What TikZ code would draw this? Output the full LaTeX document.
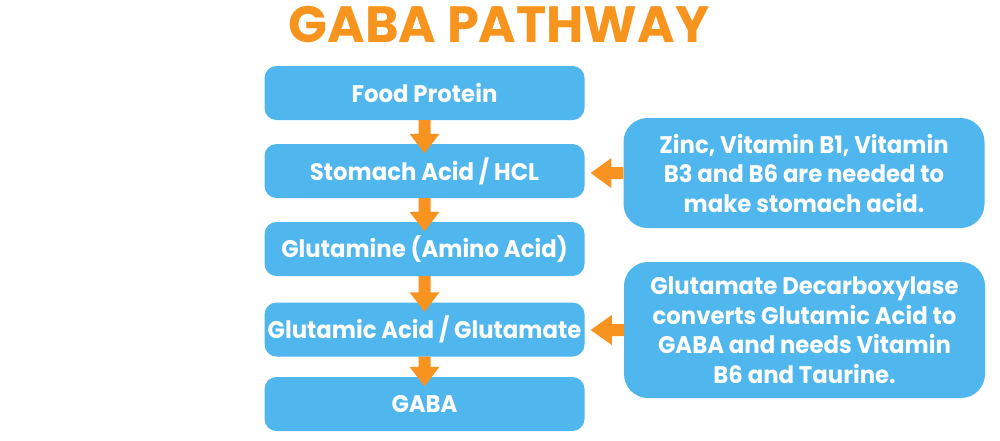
\documentclass[tikz,border=0pt]{standalone}
\usepackage{fontspec}
\setmainfont{Poppins}[FakeStretch=0.95]
\newfontfamily\titlefont{Poppins}
\usetikzlibrary{calc}
\definecolor{boxblue}{HTML}{4FB6EE}
\definecolor{arrorange}{HTML}{F7931E}
\definecolor{titleorange}{HTML}{F7941D}
\newcommand\downarr[2]{\fill[arr] ($(#1.south)+(-6,0)$) -- ($(#2.north)+(-6,-10)$) -- ($(#2.north)+(-15,-10)$) -- ($(#2.north)+(0,9.5)$) -- ($(#2.north)+(15,-10)$) -- ($(#2.north)+(6,-10)$) -- ($(#1.south)+(6,0)$) -- cycle;}
\newcommand\leftarr[2]{\fill[arr] ($(#1.west)+(0,-6)$) -- ($(#1.west)+(-12,-6)$) -- ($(#1.west)+(-12,-15)$) -- ($(#2.east |- #1.west)+(6,0)$) -- ($(#1.west)+(-12,15)$) -- ($(#1.west)+(-12,6)$) -- ($(#1.west)+(0,6)$) -- cycle;}
\begin{document}
\begin{tikzpicture}[x=1pt,y=-1pt,
  pbox/.style={fill=boxblue, rounded corners=12pt, minimum width=320pt, minimum height=54pt, inner sep=0pt, text=white, font=\bfseries\fontsize{24}{28}\selectfont},
  nbox/.style={fill=boxblue, rounded corners=24pt, minimum width=361pt, inner sep=0pt, text=white, align=center, font=\bfseries\fontsize{24}{29.5}\selectfont},
  arr/.style={fill=arrorange}]
\useasboundingbox (0,0) rectangle (1000,440);
\node[text=titleorange, font=\titlefont\bfseries\fontsize{51}{55}\selectfont] (title) at (499,25) {GABA PATHWAY};
\node[pbox] (food) at (424.5,93) {Food Protein};
\node[pbox] (stomach) at (424.5,171) {Stomach Acid / HCL};
\node[pbox] (glutamine) at (424.5,249) {Glutamine (Amino Acid)};
\node[pbox] (glutamic) at (424.5,329.5) {Glutamic Acid / Glutamate};
\node[pbox] (gaba) at (424.5,404) {GABA};
\node[nbox, minimum height=110pt] (zinc) at (804,173) {Zinc, Vitamin B1, Vitamin\\B3 and B6 are needed to\\make stomach acid.};
\node[nbox, minimum height=136pt] (gad) at (804.5,330) {Glutamate Decarboxylase\\converts Glutamic Acid to\\GABA and needs Vitamin\\B6 and Taurine.};
\downarr{food}{stomach}
\downarr{stomach}{glutamine}
\downarr{glutamine}{glutamic}
\downarr{glutamic}{gaba}
\leftarr{zinc}{stomach}
\leftarr{gad}{glutamic}
\end{tikzpicture}
\end{document}
